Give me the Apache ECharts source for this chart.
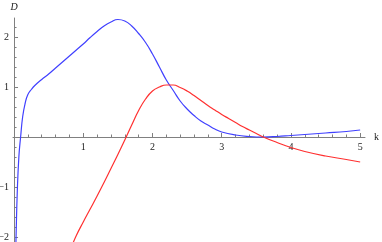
<!DOCTYPE html>
<html>
<head>
<meta charset="utf-8">
<script src="https://cdn.jsdelivr.net/npm/echarts@6/dist/echarts.min.js"></script>
<style>
  html, body { margin: 0; padding: 0; background: #fff; }
  #chart { width: 382px; height: 242px; }
</style>
</head>
<body>
<div id="chart"></div>
<script>
// Blue curve
const kBlue = [0.022, 0.03, 0.046, 0.07, 0.095, 0.125, 0.16, 0.2, 0.25, 0.3, 0.4, 0.5, 0.6, 0.7, 0.8, 0.9, 1.0, 1.1, 1.2, 1.3, 1.4, 1.5, 1.6, 1.7, 1.8, 1.9, 2.0, 2.1, 2.2, 2.3, 2.4, 2.5, 2.6, 2.7, 2.8, 2.9, 3.0, 3.2, 3.4, 3.6, 3.8, 4.0, 4.2, 4.5, 4.8, 5.0];
const dBlue = [-2.4, -1.95, -1.13, -0.39, 0.0, 0.41, 0.67, 0.85, 0.95, 1.03, 1.15, 1.26, 1.38, 1.5, 1.62, 1.74, 1.86, 1.99, 2.11, 2.22, 2.30, 2.35, 2.32, 2.22, 2.07, 1.89, 1.66, 1.40, 1.14, 0.93, 0.72, 0.56, 0.43, 0.32, 0.24, 0.16, 0.1, 0.04, 0.01, 0.0, 0.01, 0.03, 0.05, 0.08, 0.11, 0.14];
// Red curve
const kRed = [0.83, 0.9, 1.0, 1.1, 1.2, 1.3, 1.4, 1.5, 1.6, 1.7, 1.8, 1.9, 2.0, 2.1, 2.2, 2.3, 2.4, 2.5, 2.6, 2.7, 2.8, 2.9, 3.0, 3.1, 3.2, 3.3, 3.4, 3.5, 3.6, 3.8, 4.0, 4.2, 4.5, 4.8, 5.0];
const dRed = [-2.2, -1.97, -1.70, -1.44, -1.18, -0.91, -0.63, -0.35, -0.06, 0.24, 0.53, 0.76, 0.92, 1.0, 1.04, 1.04, 0.99, 0.92, 0.83, 0.73, 0.63, 0.54, 0.45, 0.37, 0.29, 0.21, 0.14, 0.07, 0.0, -0.11, -0.21, -0.29, -0.38, -0.45, -0.5];
// Tick labels
const xMajor = [1, 2, 3, 4, 5];
const yMajor = [-2, -1, 1, 2];
const xMinor = [0.2,0.4,0.6,0.8,1.2,1.4,1.6,1.8,2.2,2.4,2.6,2.8,3.2,3.4,3.6,3.8,4.2,4.4,4.6,4.8];
const yMinor = [-1.8,-1.6,-1.4,-1.2,-0.8,-0.6,-0.4,-0.2,0.2,0.4,0.6,0.8,1.2,1.4,1.6,1.8,2.2];

const X_MIN = -0.015, X_MAX = 5.07, Y_MIN = -2.1, Y_MAX = 2.38;
const W = 382, H = 242;
const G = { left: 13, right: 17, top: 18, bottom: 0 };
const gw = W - G.left - G.right, gh = H - G.top - G.bottom;
// offsets so that the axes cross at (0, 0) like the reference
const xOffset = -(gh * (0 - Y_MIN) / (Y_MAX - Y_MIN));
const yOffset = -(gw * (0 - X_MIN) / (X_MAX - X_MIN));

const axisGray = '#808080';
const labelFont = { fontFamily: 'Liberation Serif', fontSize: 10, color: '#222' };
const fmt = v => (v < 0 ? '\u2212' + Math.abs(v) : String(v));
const pairs = (ks, ds) => ks.map((k, i) => [k, ds[i]]);

const chart = echarts.init(document.getElementById('chart'), null, { renderer: 'canvas' });
chart.setOption({
  animation: false,
  backgroundColor: '#fff',
  grid: { left: G.left, right: G.right, top: G.top, bottom: G.bottom, containLabel: false, outerBoundsMode: 'none' },
  xAxis: [
    {
      type: 'value', min: X_MIN, max: X_MAX, position: 'bottom', offset: xOffset,
      name: 'k', nameLocation: 'end', nameGap: 9,
      nameTextStyle: { fontFamily: 'Liberation Serif', fontSize: 10, color: '#222', verticalAlign: 'middle', align: 'left' },
      axisLine: { show: true, onZero: false, lineStyle: { color: axisGray, width: 1 } },
      axisTick: { show: true, inside: true, length: 4, customValues: xMajor, lineStyle: { color: axisGray } },
      axisLabel: { show: true, customValues: xMajor, margin: 5, hideOverlap: false, formatter: fmt, ...labelFont },
      splitLine: { show: false }
    },
    {
      type: 'value', min: X_MIN, max: X_MAX, position: 'bottom', offset: xOffset,
      axisLine: { show: false, onZero: false },
      axisTick: { show: true, inside: true, length: 2.5, customValues: xMinor, lineStyle: { color: axisGray } },
      axisLabel: { show: false },
      splitLine: { show: false }
    }
  ],
  yAxis: [
    {
      type: 'value', min: Y_MIN, max: Y_MAX, position: 'left', offset: yOffset,
      name: 'D', nameLocation: 'end', nameGap: 6,
      nameTextStyle: { fontFamily: 'Liberation Serif', fontStyle: 'italic', fontSize: 10, color: '#222', align: 'center' },
      axisLine: { show: true, onZero: false, lineStyle: { color: axisGray, width: 1 } },
      axisTick: { show: true, inside: true, length: 4, customValues: yMajor, lineStyle: { color: axisGray } },
      axisLabel: { show: true, customValues: yMajor, margin: 5, hideOverlap: false, formatter: fmt, ...labelFont },
      splitLine: { show: false }
    },
    {
      type: 'value', min: Y_MIN, max: Y_MAX, position: 'left', offset: yOffset,
      axisLine: { show: false, onZero: false },
      axisTick: { show: true, inside: true, length: 2.5, customValues: yMinor, lineStyle: { color: axisGray } },
      axisLabel: { show: false },
      splitLine: { show: false }
    }
  ],
  series: [
    {
      type: 'line', name: 'blue', data: pairs(kBlue, dBlue), xAxisIndex: 0, yAxisIndex: 0,
      smooth: 0.5, showSymbol: false, clip: true,
      lineStyle: { color: '#4040ff', width: 1.2 }
    },
    {
      type: 'line', name: 'red', data: pairs(kRed, dRed), xAxisIndex: 0, yAxisIndex: 0,
      smooth: 0.5, showSymbol: false, clip: true,
      lineStyle: { color: '#ff3030', width: 1.2 }
    }
  ]
});
</script>
</body>
</html>
